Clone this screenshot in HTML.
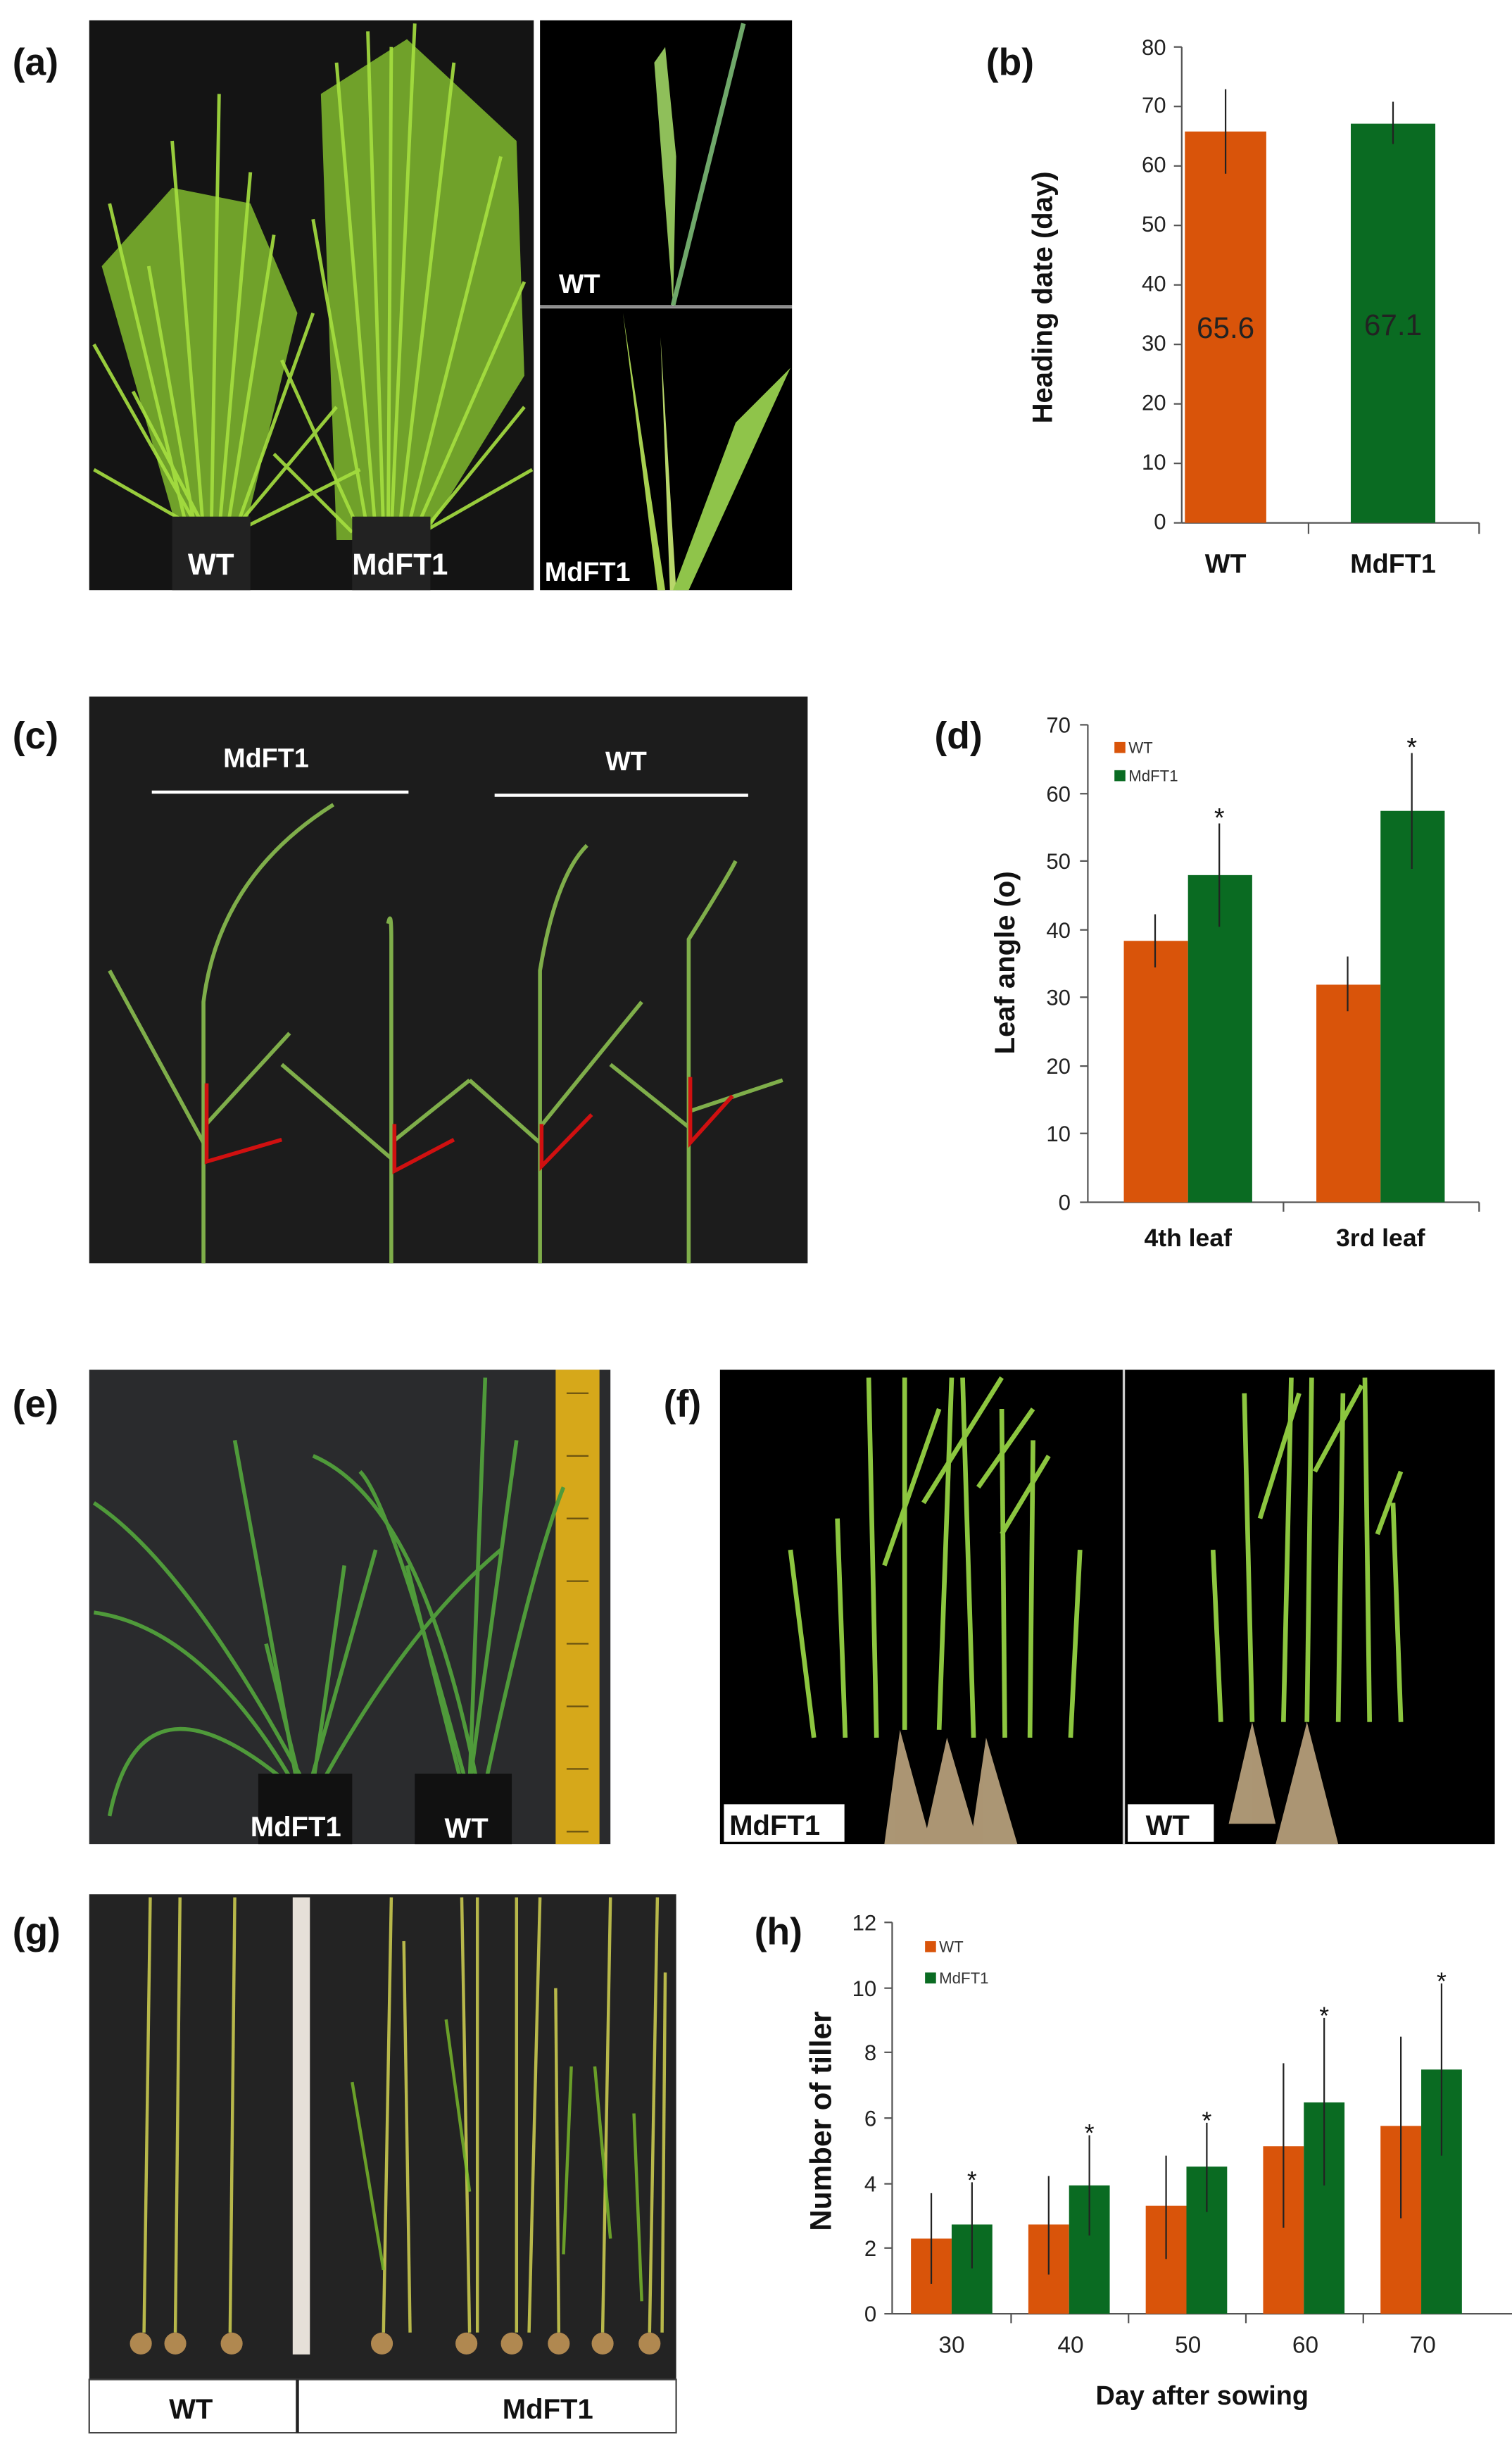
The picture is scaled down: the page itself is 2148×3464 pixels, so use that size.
<!DOCTYPE html>
<html><head><meta charset="utf-8"><style>
html,body{margin:0;padding:0;background:#fff}
svg{display:block}
text{font-family:"Liberation Sans",Arial,sans-serif}
</style></head><body>
<svg width="2148" height="3464" viewBox="0 0 966 1558" preserveAspectRatio="none" xmlns="http://www.w3.org/2000/svg">
<rect width="966" height="1558" fill="#fff"/>
<g font-weight="bold" font-size="24" fill="#111">
<text x="8" y="48">(a)</text><text x="630" y="48">(b)</text>
<text x="8" y="478">(c)</text><text x="597" y="478">(d)</text>
<text x="8" y="905">(e)</text><text x="424" y="905">(f)</text>
<text x="8" y="1242">(g)</text><text x="482" y="1242">(h)</text>
</g>

<!-- (a) photo -->
<rect x="57" y="13" width="284" height="364" fill="#141414"/>
<g fill="#8fd032" opacity="0.75">
<path d="M115 345 L65 170 L110 120 L160 130 L190 200 L155 345Z"/><path d="M215 345 L205 60 L260 25 L330 90 L335 240 L270 345Z"/>
</g>
<g stroke="#a6e040" stroke-width="2.2" fill="none" opacity="0.9">
<path d="M120 340 L70 130 M125 340 L95 170 M130 340 L110 90 M135 340 L140 60 M140 340 L160 110 M145 340 L175 150 M150 340 L200 200 M128 340 L60 220 M148 340 L215 260 M132 340 L85 250 M130 340 L60 300 M150 340 L230 300"/>
<path d="M240 340 L215 40 M245 340 L235 20 M250 340 L265 15 M255 340 L290 40 M260 340 L320 100 M265 340 L335 180 M235 340 L200 140 M270 340 L335 260 M230 340 L180 230 M248 340 L250 30 M270 340 L340 300 M225 340 L175 290"/>
</g>
<rect x="110" y="330" width="50" height="47" fill="#222"/><rect x="225" y="330" width="50" height="47" fill="#222"/>
<g fill="#fff" font-weight="bold" font-size="19"><text x="120" y="367">WT</text><text x="225" y="367">MdFT1</text></g>
<rect x="345" y="13" width="161" height="182" fill="#000"/>
<rect x="345" y="197" width="161" height="180" fill="#000"/>
<line x1="345" y1="196" x2="506" y2="196" stroke="#888" stroke-width="1.5"/>
<path d="M430 195 L418 40 L425 30 L432 100Z" fill="#8fbf5a"/><line x1="430" y1="195" x2="475" y2="15" stroke="#6fa86a" stroke-width="3"/>
<path d="M425 377 L398 200 L420 377Z" fill="#a6d050"/><path d="M428 377 L422 215 L432 377Z" fill="#b8d66a"/><path d="M430 377 L470 270 L505 235 L440 377Z" fill="#8fc44a"/>
<g fill="#fff" font-weight="bold" font-size="17"><text x="357" y="187">WT</text><text x="348" y="371">MdFT1</text></g>

<!-- (b) chart -->
<g font-size="14" fill="#222" text-anchor="end">
<text x="745" y="338">0</text><text x="745" y="300">10</text><text x="745" y="262">20</text><text x="745" y="224">30</text><text x="745" y="186">40</text><text x="745" y="148">50</text><text x="745" y="110">60</text><text x="745" y="72">70</text><text x="745" y="35">80</text>
</g>
<g stroke="#555" stroke-width="1">
<line x1="755" y1="30" x2="755" y2="334"/><line x1="755" y1="334" x2="945" y2="334"/>
<line x1="750" y1="334" x2="755" y2="334"/><line x1="750" y1="296" x2="755" y2="296"/><line x1="750" y1="258" x2="755" y2="258"/><line x1="750" y1="220" x2="755" y2="220"/><line x1="750" y1="182" x2="755" y2="182"/><line x1="750" y1="144" x2="755" y2="144"/><line x1="750" y1="106" x2="755" y2="106"/><line x1="750" y1="68" x2="755" y2="68"/><line x1="750" y1="30" x2="755" y2="30"/>
<line x1="836" y1="334" x2="836" y2="341"/><line x1="945" y1="334" x2="945" y2="341"/>
</g>
<rect x="757" y="84" width="52" height="250" fill="#D9540A"/>
<rect x="863" y="79" width="54" height="255" fill="#0A6B22"/>
<g stroke="#222" stroke-width="1"><line x1="783" y1="57" x2="783" y2="111"/><line x1="890" y1="65" x2="890" y2="92"/></g>
<g font-size="19" text-anchor="middle" fill="#222"><text x="783" y="216">65.6</text><text x="890" y="214">67.1</text></g>
<g font-size="17" font-weight="bold" text-anchor="middle" fill="#111"><text x="783" y="366">WT</text><text x="890" y="366">MdFT1</text></g>
<text transform="translate(672,190) rotate(-90)" font-size="18" font-weight="bold" text-anchor="middle" fill="#111">Heading date (day)</text>

<!-- (c) photo -->
<rect x="57" y="445" width="459" height="362" fill="#1c1c1c"/>
<g stroke="#fff" stroke-width="2"><line x1="97" y1="506" x2="261" y2="506"/><line x1="316" y1="508" x2="478" y2="508"/></g>
<g fill="#fff" font-weight="bold" font-size="17" text-anchor="middle"><text x="170" y="490">MdFT1</text><text x="400" y="492">WT</text></g>
<g stroke="#7fae4a" stroke-width="2.5" fill="none">
<path d="M130 807 L130 640 Q140 560 213 514"/><path d="M130 730 L70 620"/><path d="M130 720 L185 660"/>
<path d="M250 807 L250 600 Q250 580 248 590"/><path d="M250 740 L180 680"/><path d="M250 730 L300 690"/>
<path d="M345 807 L345 620 Q355 560 375 540"/><path d="M345 730 L300 690"/><path d="M345 720 L410 640"/>
<path d="M440 807 L440 600 Q465 560 470 550"/><path d="M440 720 L390 680"/><path d="M440 710 L500 690"/>
</g>
<g stroke="#d01010" stroke-width="2.5" fill="none">
<path d="M132 692 L132 742 L180 728"/><path d="M252 718 L252 748 L290 728"/><path d="M346 718 L346 745 L378 712"/><path d="M441 688 L441 730 L468 700"/>
</g>

<!-- (d) chart -->
<g font-size="14" fill="#222" text-anchor="end">
<text x="684" y="773">0</text><text x="684" y="729">10</text><text x="684" y="686">20</text><text x="684" y="642">30</text><text x="684" y="599">40</text><text x="684" y="555">50</text><text x="684" y="512">60</text><text x="684" y="468">70</text>
</g>
<g stroke="#555" stroke-width="1">
<line x1="695" y1="463" x2="695" y2="768"/><line x1="695" y1="768" x2="945" y2="768"/>
<line x1="690" y1="768" x2="695" y2="768"/><line x1="690" y1="724" x2="695" y2="724"/><line x1="690" y1="681" x2="695" y2="681"/><line x1="690" y1="637" x2="695" y2="637"/><line x1="690" y1="594" x2="695" y2="594"/><line x1="690" y1="550" x2="695" y2="550"/><line x1="690" y1="507" x2="695" y2="507"/><line x1="690" y1="463" x2="695" y2="463"/>
<line x1="820" y1="768" x2="820" y2="774"/><line x1="945" y1="768" x2="945" y2="774"/>
</g>
<rect x="718" y="601" width="41" height="167" fill="#D9540A"/>
<rect x="759" y="559" width="41" height="209" fill="#0A6B22"/>
<rect x="841" y="629" width="41" height="139" fill="#D9540A"/>
<rect x="882" y="518" width="41" height="250" fill="#0A6B22"/>
<g stroke="#222" stroke-width="1"><line x1="738" y1="584" x2="738" y2="618"/><line x1="779" y1="526" x2="779" y2="592"/><line x1="861" y1="611" x2="861" y2="646"/><line x1="902" y1="481" x2="902" y2="555"/></g>
<g font-size="17" text-anchor="middle" fill="#111"><text x="779" y="528">*</text><text x="902" y="483">*</text></g>
<rect x="712" y="474" width="7" height="7" fill="#D9540A"/><text x="721" y="481" font-size="10" fill="#333">WT</text>
<rect x="712" y="492" width="7" height="7" fill="#0A6B22"/><text x="721" y="499" font-size="10" fill="#333">MdFT1</text>
<g font-size="16" font-weight="bold" text-anchor="middle" fill="#111"><text x="759" y="796">4th leaf</text><text x="882" y="796">3rd leaf</text></g>
<text transform="translate(648,615) rotate(-90)" font-size="18" font-weight="bold" text-anchor="middle" fill="#111">Leaf angle (o)</text>

<!-- (e) photo -->
<rect x="57" y="875" width="333" height="303" fill="#2a2b2d"/>
<rect x="355" y="875" width="28" height="303" fill="#d6a81a"/>
<g stroke="#6a5210" stroke-width="1">
<line x1="362" y1="890" x2="376" y2="890"/><line x1="362" y1="930" x2="376" y2="930"/><line x1="362" y1="970" x2="376" y2="970"/><line x1="362" y1="1010" x2="376" y2="1010"/><line x1="362" y1="1050" x2="376" y2="1050"/><line x1="362" y1="1090" x2="376" y2="1090"/><line x1="362" y1="1130" x2="376" y2="1130"/><line x1="362" y1="1170" x2="376" y2="1170"/>
</g>
<g stroke="#4f9a3a" stroke-width="2.5" fill="none">
<path d="M190 1140 L150 920"/><path d="M195 1140 Q120 1000 60 960"/><path d="M200 1140 L220 1000"/><path d="M185 1140 Q90 1060 70 1160"/><path d="M205 1140 Q260 1040 320 990"/><path d="M192 1140 L170 1050"/><path d="M188 1140 Q130 1040 60 1030"/><path d="M198 1140 L240 990"/>
<path d="M300 1140 L310 880"/><path d="M305 1140 Q270 960 200 930"/><path d="M295 1140 L260 1000"/><path d="M310 1140 Q340 1000 360 950"/><path d="M300 1140 L330 920"/><path d="M298 1140 Q250 960 230 940"/>
</g>
<rect x="165" y="1133" width="60" height="45" fill="#111"/><rect x="265" y="1133" width="62" height="45" fill="#111"/>
<g fill="#fff" font-weight="bold" font-size="18"><text x="160" y="1173">MdFT1</text><text x="284" y="1174">WT</text></g>

<!-- (f) photo -->
<rect x="460" y="875" width="495" height="303" fill="#000"/>
<line x1="718" y1="875" x2="718" y2="1178" stroke="#ccc" stroke-width="1.5"/>
<g stroke="#8cc63f" stroke-width="3" fill="none">
<path d="M520 1110 L505 990"/><path d="M540 1110 L535 970"/><path d="M560 1110 L555 880"/><path d="M578 1105 L578 880"/><path d="M600 1105 L608 880"/><path d="M622 1110 L615 880"/><path d="M642 1110 L640 900"/><path d="M658 1110 L660 920"/><path d="M684 1110 L690 990"/>
<path d="M565 1000 L600 900"/><path d="M590 960 L640 880"/><path d="M625 950 L660 900"/><path d="M640 980 L670 930"/>
<path d="M780 1100 L775 990"/><path d="M800 1100 L795 890"/><path d="M820 1100 L825 880"/><path d="M835 1100 L838 880"/><path d="M855 1100 L858 890"/><path d="M875 1100 L872 880"/><path d="M895 1100 L890 960"/>
<path d="M805 970 L830 890"/><path d="M840 940 L870 885"/><path d="M880 980 L895 940"/>
</g>
<g fill="#c9b088" opacity="0.85">
<path d="M575 1105 L565 1178 L595 1178Z"/><path d="M605 1110 L590 1178 L625 1178Z"/><path d="M630 1110 L620 1178 L650 1178Z"/><path d="M835 1100 L815 1178 L855 1178Z"/><path d="M800 1100 L785 1165 L815 1165Z"/>
</g>
<rect x="462" y="1152" width="78" height="25" fill="#fff" stroke="#000"/><rect x="720" y="1152" width="56" height="25" fill="#fff" stroke="#000"/>
<g fill="#111" font-weight="bold" font-size="18"><text x="466" y="1172">MdFT1</text><text x="732" y="1172">WT</text></g>

<!-- (g) photo -->
<rect x="57" y="1210" width="375" height="310" fill="#232323"/>
<rect x="187" y="1212" width="11" height="292" fill="#e6e0d8"/>
<g stroke="#b8b84a" stroke-width="2" fill="none">
<path d="M92 1490 L96 1212"/><path d="M112 1490 L115 1212"/><path d="M147 1490 L150 1212"/>
<path d="M245 1490 L250 1212"/><path d="M262 1490 L258 1240"/><path d="M300 1490 L295 1212"/><path d="M305 1490 L305 1212"/><path d="M330 1490 L330 1212"/><path d="M338 1490 L345 1212"/><path d="M357 1490 L355 1270"/><path d="M385 1490 L390 1212"/><path d="M415 1490 L420 1212"/><path d="M423 1490 L425 1260"/>
</g>
<g stroke="#7cbf2a" stroke-width="2" fill="none" opacity="0.8"><path d="M245 1450 L225 1330"/><path d="M300 1400 L285 1290"/><path d="M360 1440 L365 1320"/><path d="M410 1470 L405 1350"/><path d="M390 1430 L380 1320"/></g>
<g fill="#b08850"><circle cx="90" cy="1497" r="7"/><circle cx="112" cy="1497" r="7"/><circle cx="148" cy="1497" r="7"/><circle cx="244" cy="1497" r="7"/><circle cx="298" cy="1497" r="7"/><circle cx="327" cy="1497" r="7"/><circle cx="357" cy="1497" r="7"/><circle cx="385" cy="1497" r="7"/><circle cx="415" cy="1497" r="7"/></g>
<rect x="57" y="1520" width="375" height="34" fill="#fff" stroke="#444"/>
<line x1="190" y1="1520" x2="190" y2="1554" stroke="#222" stroke-width="2"/>
<g fill="#111" font-weight="bold" font-size="18" text-anchor="middle"><text x="122" y="1545">WT</text><text x="350" y="1545">MdFT1</text></g>

<!-- (h) chart -->
<g font-size="14" fill="#222" text-anchor="end">
<text x="560" y="1483">0</text><text x="560" y="1441">2</text><text x="560" y="1400">4</text><text x="560" y="1358">6</text><text x="560" y="1316">8</text><text x="560" y="1275">10</text><text x="560" y="1233">12</text>
</g>
<g stroke="#555" stroke-width="1">
<line x1="570" y1="1228" x2="570" y2="1478"/><line x1="570" y1="1478" x2="966" y2="1478"/>
<line x1="565" y1="1478" x2="570" y2="1478"/><line x1="565" y1="1436" x2="570" y2="1436"/><line x1="565" y1="1395" x2="570" y2="1395"/><line x1="565" y1="1353" x2="570" y2="1353"/><line x1="565" y1="1311" x2="570" y2="1311"/><line x1="565" y1="1270" x2="570" y2="1270"/><line x1="565" y1="1228" x2="570" y2="1228"/>
<line x1="646" y1="1478" x2="646" y2="1484"/><line x1="721" y1="1478" x2="721" y2="1484"/><line x1="796" y1="1478" x2="796" y2="1484"/><line x1="871" y1="1478" x2="871" y2="1484"/>
</g>
<g fill="#D9540A">
<rect x="582" y="1430" width="26" height="48"/><rect x="657" y="1421" width="26" height="57"/><rect x="732" y="1409" width="26" height="69"/><rect x="807" y="1371" width="26" height="107"/><rect x="882" y="1358" width="26" height="120"/>
</g>
<g fill="#0A6B22">
<rect x="608" y="1421" width="26" height="57"/><rect x="683" y="1396" width="26" height="82"/><rect x="758" y="1384" width="26" height="94"/><rect x="833" y="1343" width="26" height="135"/><rect x="908" y="1322" width="26" height="156"/>
</g>
<g stroke="#222" stroke-width="1">
<line x1="595" y1="1401" x2="595" y2="1459"/><line x1="670" y1="1390" x2="670" y2="1453"/><line x1="745" y1="1377" x2="745" y2="1443"/><line x1="820" y1="1318" x2="820" y2="1423"/><line x1="895" y1="1301" x2="895" y2="1417"/>
<line x1="621" y1="1394" x2="621" y2="1449"/><line x1="696" y1="1364" x2="696" y2="1428"/><line x1="771" y1="1356" x2="771" y2="1413"/><line x1="846" y1="1289" x2="846" y2="1396"/><line x1="921" y1="1267" x2="921" y2="1377"/>
</g>
<g font-size="16" text-anchor="middle" fill="#111"><text x="621" y="1398">*</text><text x="696" y="1368">*</text><text x="771" y="1360">*</text><text x="846" y="1293">*</text><text x="921" y="1271">*</text></g>
<rect x="591" y="1240" width="7" height="7" fill="#D9540A"/><text x="600" y="1247" font-size="10" fill="#333">WT</text>
<rect x="591" y="1260" width="7" height="7" fill="#0A6B22"/><text x="600" y="1267" font-size="10" fill="#333">MdFT1</text>
<g font-size="15" text-anchor="middle" fill="#222"><text x="608" y="1503">30</text><text x="684" y="1503">40</text><text x="759" y="1503">50</text><text x="834" y="1503">60</text><text x="909" y="1503">70</text></g>
<text x="768" y="1536" font-size="17" font-weight="bold" text-anchor="middle" fill="#111">Day after sowing</text>
<text transform="translate(531,1355) rotate(-90)" font-size="19" font-weight="bold" text-anchor="middle" fill="#111">Number of tiller</text>
</svg>
</body></html>
